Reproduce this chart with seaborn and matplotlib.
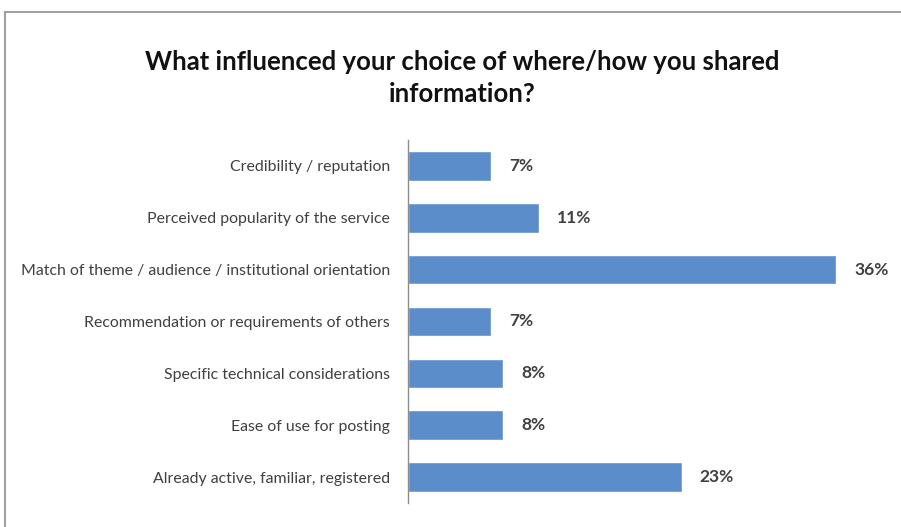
import matplotlib
matplotlib.use("Agg")
import matplotlib.pyplot as plt
import seaborn as sns
import pandas as pd
from matplotlib.patches import Rectangle

categories = [
    "Credibility / reputation",
    "Perceived popularity of the service",
    "Match of theme / audience / institutional orientation",
    "Recommendation or requirements of others",
    "Specific technical considerations",
    "Ease of use for posting",
    "Already active, familiar, registered",
]
values = [7, 11, 36, 7, 8, 8, 23]
value_labels = ["7%", "11%", "36%", "7%", "8%", "8%", "23%"]
title = "What influenced your choice of where/how you shared\ninformation?"

sns.set_theme(style="white")
plt.rcParams["font.family"] = ["Lato", "DejaVu Sans"]

df = pd.DataFrame({"category": categories, "value": values})

W, H = 901, 527
fig = plt.figure(figsize=(W / 100, H / 100), dpi=100)
ax = fig.add_axes([408 / W, 1 - 503 / H, (884 - 408) / W, (503 - 140) / H])

sns.barplot(data=df, y="category", x="value", orient="h", color="#5B8DCB",
            saturation=1, width=0.57, ax=ax)
ax.set_xlim(0, 40)
ax.set_xlabel("")
ax.set_ylabel("")
ax.set_xticks([])
for s in ["top", "right", "bottom"]:
    ax.spines[s].set_visible(False)
ax.spines["left"].set_color("#8c8c8c")
ax.spines["left"].set_linewidth(1.0)
ax.tick_params(axis="y", length=0, pad=13, labelsize=11.4, labelcolor="#404040")

ax.bar_label(ax.containers[0], labels=value_labels, padding=13, fontsize=12.5,
             color="#404040", fontweight="bold")

fig.text(462 / W, 1 - 78 / H, title, ha="center", va="center", fontsize=18.5,
         fontweight="bold", color="#111111", linespacing=1.45)

fig.patches.append(Rectangle((5 / W, -0.05), 1.1, 1 - 12 / H + 0.05,
                             transform=fig.transFigure, fill=False,
                             edgecolor="#a0a0a0", linewidth=1.5))

fig.savefig("out.png", dpi=100)
